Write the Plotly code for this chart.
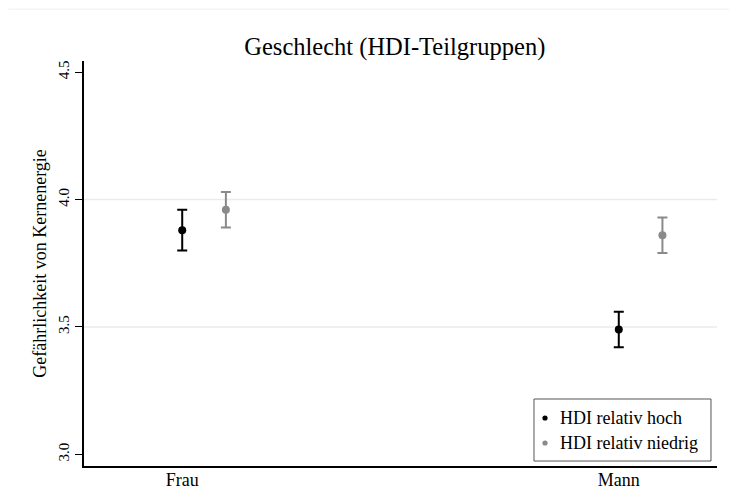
import plotly.graph_objects as go

# Mean ratings with 95% confidence bounds, by sex and HDI subgroup
categories = ["Frau", "Mann"]
groups = ["HDI relativ hoch", "HDI relativ niedrig"]
means = {
    "HDI relativ hoch": [3.88, 3.49],
    "HDI relativ niedrig": [3.96, 3.86],
}
lower = {
    "HDI relativ hoch": [3.80, 3.42],
    "HDI relativ niedrig": [3.89, 3.79],
}
upper = {
    "HDI relativ hoch": [3.96, 3.56],
    "HDI relativ niedrig": [4.03, 3.93],
}
group_offsets = [0.0, 0.1]
colors = ["#000000", "#8a8a8a"]
y_ticks = [3.0, 3.5, 4.0, 4.5]
grid_values = [3.5, 4.0]

FONT = "Liberation Serif"

fig = go.Figure()
cat_pos = list(range(len(categories)))
for g, off, col in zip(groups, group_offsets, colors):
    xs = [p + off for p in cat_pos]
    ys = means[g]
    fig.add_trace(go.Scatter(
        x=xs, y=ys, mode="markers", name=g, showlegend=False,
        marker=dict(color=col, size=8),
        error_y=dict(
            type="data", symmetric=False,
            array=[u - m for u, m in zip(upper[g], ys)],
            arrayminus=[m - l for m, l in zip(ys, lower[g])],
            color=col, thickness=2, width=5,
        ),
    ))

shapes = [
    dict(type="line", xref="paper", yref="y", x0=0, x1=1, y0=v, y1=v,
         line=dict(color="#ebebeb", width=1.5), layer="below")
    for v in grid_values
]
# light frame line along the top of the graph region
shapes.append(dict(type="line", xref="paper", yref="paper",
                   x0=-0.12, x1=1.02, y0=1.128, y1=1.128,
                   line=dict(color="#efefef", width=1)))

# legend box in the lower right corner of the plot area
box_x0, box_x1, box_y0, box_y1 = 0.7109, 0.9905, 0.0123, 0.1654
shapes.append(dict(type="rect", xref="paper", yref="paper",
                   x0=box_x0, x1=box_x1, y0=box_y0, y1=box_y1,
                   line=dict(color="#555555", width=1), fillcolor="white"))
annotations = []
key_rows = [0.1185, 0.0568]
for g, col, ky in zip(groups, colors, key_rows):
    shapes.append(dict(type="circle", xref="paper", yref="paper",
                       xsizemode="pixel", ysizemode="pixel",
                       xanchor=0.7283, yanchor=ky, x0=-2.6, x1=2.6, y0=-2.6, y1=2.6,
                       fillcolor=col, line=dict(color=col, width=0)))
    annotations.append(dict(xref="paper", yref="paper", x=0.7488, y=ky,
                            xanchor="left", yanchor="middle", showarrow=False,
                            text=g, font=dict(family=FONT, size=18, color="#000000")))

fig.update_layout(
    width=729, height=491,
    margin=dict(l=84, r=12, t=61, b=25, autoexpand=False),
    paper_bgcolor="white", plot_bgcolor="white",
    font=dict(family=FONT, color="#000000"),
    title=dict(text="Geschlecht (HDI-Teilgruppen)", x=0.491, xref="paper",
               xanchor="center", y=0.905, yref="container", yanchor="middle",
               font=dict(family=FONT, size=24.5, color="#000000")),
    showlegend=False,
    shapes=shapes,
    annotations=annotations,
)

fig.update_xaxes(
    range=[-0.225, 1.225], tickmode="array", tickvals=cat_pos, ticktext=categories,
    showgrid=False, zeroline=False, showline=True, linecolor="#000000", linewidth=1.5,
    ticks="", automargin=False, ticklabelstandoff=-3,
    tickfont=dict(family=FONT, size=18, color="#000000"),
)
fig.update_yaxes(
    range=[2.954, 4.544], tickmode="array", tickvals=y_ticks,
    ticktext=[f"{v:.1f}" for v in y_ticks], tickangle=-90,
    showgrid=False, zeroline=False, showline=True, linecolor="#000000", linewidth=1.5,
    ticks="outside", ticklen=7, tickwidth=1.2, tickcolor="#000000", automargin=False,
    tickfont=dict(family=FONT, size=15, color="#000000"),
    title=dict(text="Gefährlichkeit von Kernenergie", standoff=5,
               font=dict(family=FONT, size=18, color="#000000")),
)

fig.write_html("out.html")
